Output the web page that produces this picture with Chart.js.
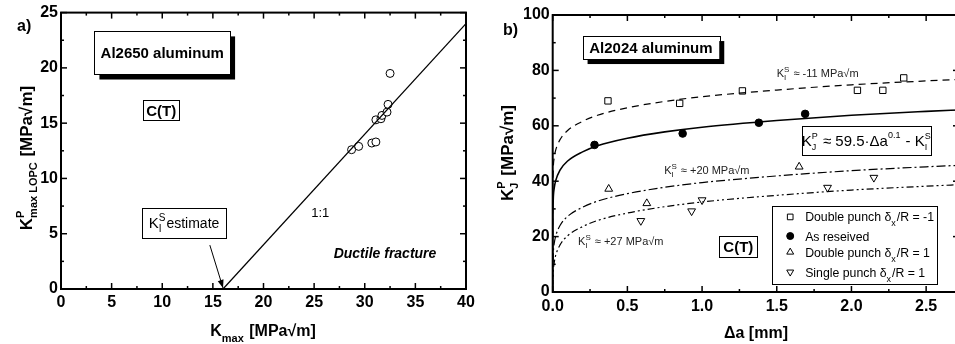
<!DOCTYPE html>
<html>
<head>
<meta charset="utf-8">
<script src="https://cdn.jsdelivr.net/npm/chart.js@4.4.0/dist/chart.umd.min.js"></script>
<style>
    body { margin: 0; width: 955px; height: 344px; overflow: hidden; background: #fff; position: relative; }
    canvas { position: absolute; top: 0; }
    #chartA { left: 0; }
    #chartB { left: 480px; }
</style>
</head>
<body>
<canvas id="chartA" width="480" height="344"></canvas>
<canvas id="chartB" width="490" height="344"></canvas>
<script>
// ---- panel a) Al2650, K^P_max LOPC vs K_max
const kmaxA = [28.7, 29.4, 30.7, 31.1, 31.1, 31.6, 31.7, 32.2, 32.3, 32.5];
const kpA = [12.6, 12.9, 13.2, 13.3, 15.3, 15.4, 15.7, 16.0, 16.7, 19.5];
const oneToOneX = [16, 40];
const oneToOneY = [0, 24];

// ---- panel b) Al2024, K^P_J vs delta a
const dpMinusDa = [0.37, 0.85, 1.27, 2.04, 2.21, 2.35];
const dpMinusK = [69.0, 68.1, 72.6, 72.8, 72.8, 77.3];
const asRecDa = [0.28, 0.87, 1.38, 1.69];
const asRecK = [53.1, 57.2, 61.1, 64.3];
const dpPlusDa = [0.375, 0.63, 1.65];
const dpPlusK = [37.2, 32.0, 45.2];
const spPlusDa = [0.59, 0.93, 1.0, 1.84, 2.15];
const spPlusK = [25.7, 29.2, 33.2, 37.7, 41.3];

// fitted curves
const fitDa = [0, 0.0001, 0.001, 0.005, 0.01, 0.02, 0.05, 0.1, 0.2, 0.3, 0.5, 0.75, 1, 1.5, 2, 2.5, 2.75];
const fitMinus11 = [11, 34.7, 40.8, 46.0, 48.5, 51.2, 55.1, 58.3, 61.6, 63.8, 66.5, 68.8, 70.5, 72.9, 74.8, 76.2, 76.8];
const fitAsRec = [0, 23.7, 29.8, 35.0, 37.5, 40.2, 44.1, 47.3, 50.6, 52.8, 55.5, 57.8, 59.5, 61.9, 63.8, 65.2, 65.8];
const fitPlus20 = [-20, 3.7, 9.8, 15.0, 17.5, 20.2, 24.1, 27.3, 30.6, 32.8, 35.5, 37.8, 39.5, 41.9, 43.8, 45.2, 45.8];
const fitPlus27 = [-27, -3.3, 2.8, 8.0, 10.5, 13.2, 17.1, 20.3, 23.6, 25.8, 28.5, 30.8, 32.5, 34.9, 36.8, 38.2, 38.8];

const legendLabels = ['Double punch', 'As reseived', 'Double punch', 'Single punch'];

const FAMILY = '"Liberation Sans", Arial, sans-serif';
const font = (size, bold, italic) => `${italic ? 'italic ' : ''}${bold ? 'bold ' : ''}${size}px ${FAMILY}`;
const pts = (xs, ys) => xs.map((v, i) => ({ x: v, y: ys[i] }));

// rich text: segments {t} or stacked {sup, sub}
function segWidth(ctx, s) {
    ctx.font = font(s.size, s.bold, s.italic);
    if (s.t !== undefined) return ctx.measureText(s.t).width;
    return Math.max(s.sup ? ctx.measureText(s.sup).width : 0, s.sub ? ctx.measureText(s.sub).width : 0) + 1;
}

function richText(ctx, segs, x, y, align) {
    const total = segs.reduce((w, s) => w + segWidth(ctx, s), 0);
    let cx = align === 'center' ? x - total / 2 : align === 'right' ? x - total : x;
    ctx.textAlign = 'left';
    ctx.textBaseline = 'alphabetic';
    segs.forEach(s => {
        const w = segWidth(ctx, s);
        ctx.font = font(s.size, s.bold, s.italic);
        if (s.t !== undefined) {
            ctx.fillText(s.t, cx, y + (s.dy || 0));
        } else {
            if (s.sup) ctx.fillText(s.sup, cx, y - (s.up || s.size * 0.75));
            if (s.sub) ctx.fillText(s.sub, cx, y + (s.down || s.size * 0.45));
        }
        cx += w;
    });
}

function box(ctx, x1, y1, x2, y2, shadow) {
    if (shadow) {
        ctx.fillStyle = '#000';
        ctx.fillRect(x1 + 5, y1 + 5, x2 - x1, y2 - y1);
    }
    ctx.fillStyle = '#fff';
    ctx.fillRect(x1, y1, x2 - x1, y2 - y1);
    ctx.strokeStyle = '#000';
    ctx.lineWidth = 1;
    ctx.strokeRect(Math.round(x1) + 0.5, Math.round(y1) + 0.5, Math.round(x2 - x1), Math.round(y2 - y1));
}

// axes frame with inward ticks on all four sides
const framePlugin = {
    id: 'frame',
    afterDatasetsDraw(chart, args, opts) {
        const { ctx, chartArea: a, scales: { x, y } } = chart;
        ctx.save();
        ctx.strokeStyle = '#000';
        ctx.lineWidth = 1.5;
        const seg = (x1, y1, x2, y2) => { ctx.beginPath(); ctx.moveTo(x1, y1); ctx.lineTo(x2, y2); ctx.stroke(); };
        const nx = Math.floor((x.max - x.min) / opts.xMinor + 1e-6);
        for (let i = 0; i <= nx; i++) {
            const v = x.min + i * opts.xMinor;
            const px = x.getPixelForValue(v);
            const len = i % 2 === 0 ? 6 : 3;
            seg(px, a.bottom, px, a.bottom - len);
            seg(px, a.top, px, a.top + len);
        }
        const ny = Math.floor((y.max - y.min) / opts.yMinor + 1e-6);
        for (let i = 0; i <= ny; i++) {
            const v = y.min + i * opts.yMinor;
            const py = y.getPixelForValue(v);
            const len = i % 2 === 0 ? 6 : 3;
            seg(a.left, py, a.left + len, py);
            seg(a.right, py, a.right - len, py);
        }
        ctx.lineWidth = 2;
        ctx.strokeRect(a.left, a.top, a.right - a.left, a.bottom - a.top);
        ctx.restore();
    }
};

function baseScale(min, max, step, fit, fmt) {
    return {
        type: 'linear', min, max,
        ticks: { stepSize: step, includeBounds: false, padding: 4, maxRotation: 0, color: '#000',
                 font: { family: FAMILY, size: 16, weight: 'bold' }, callback: fmt || (v => v) },
        grid: { display: false, drawTicks: false },
        border: { display: false },
        afterFit: fit,
    };
}

const notesA = {
    id: 'notesA',
    afterDatasetsDraw(chart) {
        const { ctx, scales: { x, y } } = chart;
        const X = v => x.getPixelForValue(v), Y = v => y.getPixelForValue(v);
        ctx.save();
        ctx.fillStyle = '#000';
        ctx.font = font(16, true);
        ctx.textAlign = 'left';
        ctx.fillText('a)', 17, 31);

        box(ctx, X(3.3), Y(23.3), X(16.7), Y(19.4), true);
        ctx.fillStyle = '#000';
        richText(ctx, [{ t: 'Al2650 aluminum', size: 15, bold: true }], (X(3.3) + X(16.7)) / 2, (Y(23.3) + Y(19.4)) / 2 + 5.5, 'center');

        box(ctx, X(8.1), Y(17.1), X(11.7), Y(15.25), false);
        ctx.fillStyle = '#000';
        richText(ctx, [{ t: 'C(T)', size: 15, bold: true }], (X(8.1) + X(11.7)) / 2, (Y(17.1) + Y(15.25)) / 2 + 5.5, 'center');

        box(ctx, X(8.0), Y(7.3), X(16.3), Y(4.6), false);
        ctx.fillStyle = '#000';
        richText(ctx, [{ t: 'K', size: 15 }, { sup: 'S', sub: 'I', size: 10, up: 7, down: 4 }, { t: 'estimate', size: 14 }],
            (X(8.0) + X(16.3)) / 2, (Y(7.3) + Y(4.6)) / 2 + 5, 'center');

        // arrow to K_I^S estimate
        const x1 = X(14.7), y1 = Y(3.97), x2 = X(16.0), y2 = Y(0.1);
        ctx.strokeStyle = '#000';
        ctx.lineWidth = 1;
        ctx.beginPath(); ctx.moveTo(x1, y1); ctx.lineTo(x2, y2); ctx.stroke();
        const ang = Math.atan2(y2 - y1, x2 - x1);
        ctx.beginPath();
        ctx.moveTo(x2, y2);
        ctx.lineTo(x2 - 8 * Math.cos(ang) + 3 * Math.sin(ang), y2 - 8 * Math.sin(ang) - 3 * Math.cos(ang));
        ctx.lineTo(x2 - 8 * Math.cos(ang) - 3 * Math.sin(ang), y2 - 8 * Math.sin(ang) + 3 * Math.cos(ang));
        ctx.closePath();
        ctx.fill();

        richText(ctx, [{ t: '1:1', size: 13 }], X(25.6), Y(6.95) + 4.5, 'center');
        richText(ctx, [{ t: 'Ductile fracture', size: 14, bold: true, italic: true }], X(32.0), Y(3.25) + 5, 'center');

        // axis titles
        richText(ctx, [{ t: 'K', size: 16, bold: true }, { sub: 'max', size: 11, bold: true, down: 6 }, { t: ' [MPa√m]', size: 16, bold: true }],
            263, 336, 'center');
        ctx.translate(32, 158);
        ctx.rotate(-Math.PI / 2);
        richText(ctx, [{ t: 'K', size: 17, bold: true }, { sup: 'P', sub: 'max LOPC', size: 11, bold: true, up: 8, down: 5 },
            { t: ' [MPa√m]', size: 17, bold: true }], 0, 0, 'center');
        ctx.restore();
    }
};

const notesB = {
    id: 'notesB',
    afterDatasetsDraw(chart) {
        const { ctx, scales: { x, y } } = chart;
        const X = v => x.getPixelForValue(v), Y = v => y.getPixelForValue(v);
        ctx.save();
        ctx.fillStyle = '#000';
        ctx.font = font(16, true);
        ctx.textAlign = 'left';
        ctx.fillText('b)', 23, 35);

        box(ctx, X(0.2), Y(92.4), X(1.115), Y(84.1), true);
        ctx.fillStyle = '#000';
        richText(ctx, [{ t: 'Al2024 aluminum', size: 15, bold: true }], (X(0.2) + X(1.115)) / 2, (Y(92.4) + Y(84.1)) / 2 + 5.5, 'center');

        box(ctx, X(1.115), Y(20.2), X(1.37), Y(12.6), false);
        ctx.fillStyle = '#000';
        richText(ctx, [{ t: 'C(T)', size: 15, bold: true }], (X(1.115) + X(1.37)) / 2, (Y(20.2) + Y(12.6)) / 2 + 5.5, 'center');

        // fit formula
        box(ctx, X(1.67), Y(59.9), X(2.535), Y(49.5), false);
        ctx.fillStyle = '#000';
        richText(ctx, [{ t: 'K', size: 15 }, { sup: 'P', sub: 'J', size: 9, up: 7, down: 4 }, { t: ' ≈ 59.5·Δa', size: 15 },
            { sup: '0.1', size: 9, up: 8 }, { t: ' - K', size: 15 }, { sup: 'S', sub: 'I', size: 9, up: 7, down: 4 }],
            (X(1.67) + X(2.535)) / 2, (Y(59.9) + Y(49.5)) / 2 + 5.5, 'center');

        // K_I^S labels on the curves
        ctx.fillStyle = '#222';
        const ksLabel = (txt, xv, yv) => richText(ctx, [{ t: 'K', size: 11 }, { sup: 'S', sub: 'I', size: 8, up: 5, down: 3 },
            { t: ' ≈ ' + txt + ' MPa√m', size: 11 }], X(xv), Y(yv) + 4, 'left');
        ksLabel('-11', 1.50, 79);
        ksLabel('+20', 0.746, 44);
        ksLabel('+27', 0.17, 18.4);

        // legend
        box(ctx, X(1.47), Y(31.0), X(2.575), Y(2.9), false);
        const rows = [
            { style: 'rect', fill: '#fff', r: 4, rot: 0, lbl: legendLabels[0], tail: '/R = -1', sub: true, yv: 27.1 },
            { style: 'circle', fill: '#000', r: 3.5, rot: 0, lbl: legendLabels[1], tail: '', sub: false, yv: 20.2 },
            { style: 'triangle', fill: '#fff', r: 4, rot: 0, lbl: legendLabels[2], tail: '/R = 1', sub: true, yv: 14.4 },
            { style: 'triangle', fill: '#fff', r: 4, rot: 180, lbl: legendLabels[3], tail: '/R = 1', sub: true, yv: 7.2 },
        ];
        rows.forEach(r => {
            ctx.fillStyle = r.fill;
            ctx.strokeStyle = '#000';
            ctx.lineWidth = 1;
            Chart.helpers.drawPoint(ctx, { pointStyle: r.style, radius: r.r, rotation: r.rot, borderWidth: 1 }, X(1.59), Y(r.yv));
            ctx.fillStyle = '#000';
            const segs = [{ t: r.lbl + (r.sub ? ' δ' : ''), size: 12.3 }];
            if (r.sub) segs.push({ sub: 'x', size: 9, down: 5 }, { t: r.tail, size: 12.3 });
            richText(ctx, segs, X(1.69), Y(r.yv) + 4.5, 'left');
        });

        // axis titles
        ctx.fillStyle = '#000';
        richText(ctx, [{ t: 'Δa [mm]', size: 16, bold: true }], 276, 338, 'center');
        ctx.translate(33, 153);
        ctx.rotate(-Math.PI / 2);
        richText(ctx, [{ t: 'K', size: 17, bold: true }, { sup: 'P', sub: 'J', size: 11, bold: true, up: 8, down: 5 },
            { t: ' [MPa√m]', size: 17, bold: true }], 0, 0, 'center');
        ctx.restore();
    }
};

const common = {
    animation: false,
    responsive: false,
    events: [],
    plugins: { legend: { display: false }, tooltip: { enabled: false } },
};

new Chart(document.getElementById('chartA'), {
    type: 'scatter',
    data: {
        datasets: [
            { data: pts(oneToOneX, oneToOneY), showLine: true, pointRadius: 0, borderColor: '#000', borderWidth: 1.3 },
            { data: pts(kmaxA, kpA), pointStyle: 'circle', pointRadius: 4, borderColor: '#000', backgroundColor: '#fff', pointBorderWidth: 1 },
        ],
    },
    options: {
        ...common,
        layout: { padding: { left: 0, top: 12, right: 14, bottom: 0 } },
        plugins: { ...common.plugins, frame: { xMinor: 2.5, yMinor: 2.5 } },
        scales: {
            x: baseScale(0, 40, 5, s => { s.height = 55; }),
            y: { ...baseScale(0, 25, 5, s => { s.width = 61; }), ticks: { ...baseScale(0, 25, 5).ticks, padding: 3 } },
        },
    },
    plugins: [framePlugin, notesA],
});

const fitLine = (ys, dash, w) => ({
    data: pts(fitDa, ys), showLine: true, pointRadius: 0, borderColor: '#000', borderWidth: w,
    borderDash: dash, cubicInterpolationMode: 'monotone',
});
const marks = (xs, ys, style, fill, r, rot) => ({
    data: pts(xs, ys), pointStyle: style, pointRadius: r, rotation: rot, borderColor: '#000',
    backgroundColor: fill, pointBorderWidth: 1,
});

new Chart(document.getElementById('chartB'), {
    type: 'scatter',
    data: {
        datasets: [
            fitLine(fitMinus11, [7, 5], 1.2),
            fitLine(fitAsRec, [], 1.6),
            fitLine(fitPlus20, [9, 3, 2, 3], 1.2),
            fitLine(fitPlus27, [7, 3, 2, 3, 2, 3], 1.2),
            marks(dpMinusDa, dpMinusK, 'rect', '#fff', 4.5, 0),
            marks(asRecDa, asRecK, 'circle', '#000', 3.8, 0),
            marks(dpPlusDa, dpPlusK, 'triangle', '#fff', 4.5, 0),
            marks(spPlusDa, spPlusK, 'triangle', '#fff', 4.5, 180),
        ],
    },
    options: {
        ...common,
        layout: { padding: { left: 0, top: 15, right: 11, bottom: 0 } },
        plugins: { ...common.plugins, frame: { xMinor: 0.25, yMinor: 10 } },
        scales: {
            x: { ...baseScale(0, 2.72, 0.5, s => { s.height = 52; }, v => v.toFixed(1)),
                 ticks: { ...baseScale(0, 2.72, 0.5, null, v => v.toFixed(1)).ticks, padding: 5 } },
            y: { ...baseScale(0, 100, 20, s => { s.width = 72.7; }), ticks: { ...baseScale(0, 100, 20).ticks, padding: 3 } },
        },
    },
    plugins: [framePlugin, notesB],
});
</script>
</body>
</html>
